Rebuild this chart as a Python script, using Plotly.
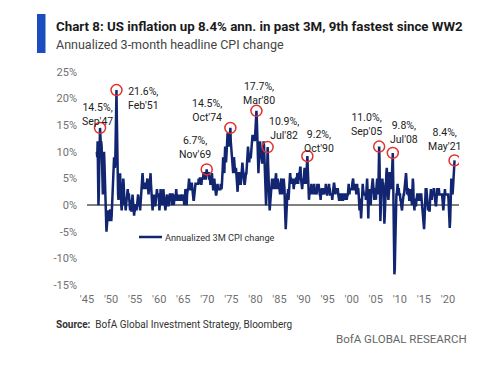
import plotly.graph_objects as go

# ---------------- data (annualized 3M CPI change, %, monthly from Jan 1947) ----------------
start_year = 1947
cpi_1940s = [
    10, 9, 12, 4, 0, 2, 7, 12, 14.5, 13, 11, 12,        # 1947
    11, 8, 3, 2, 7, 10, 10, 8, 4, 0, -3, -5,            # 1948
    -5, -4, -3, -1, -1, -2, -3, -2, -1, -1, -1, -3,     # 1949
]
cpi_1950s = [
    -3, -2, 0, 1, 2, 4, 7, 9, 8, 7, 8, 11,
    16, 21.6, 16, 8, 5, 2, 1, 2, 3, 5, 6, 4,
    3, 0, -1, 1, 2, 3, 5, 4, 1, 0, 1, 0,
    -1, 0, 1, 2, 2, 3, 2, 2, 2, 1, -1, -1,
    0, 1, -1, -1, 1, 2, 1, -1, -2, -2, -1, -1,
    0, 0, 0, -1, 0, 1, 1, 2, 1, 1, 0, 0,
    -1, 0, 1, 2, 4, 5, 6, 5, 3, 4, 3, 4,
    4, 4, 4, 3, 4, 4, 5, 4, 3, 2, 3, 3,
    4, 5, 6, 4, 2, 1, 0, -1, 0, 1, 2, 1,
    0, 0, 0, 1, 2, 2, 3, 2, 2, 2, 2, 1,
]
cpi_1960s = [
    -1, 0, 1, 3, 2, 2, 1, 0, 1, 3, 3, 2,
    1, 0, 0, -1, 0, 1, 2, 2, 1, 1, 0, 0,
    1, 2, 2, 2, 1, 1, 1, 0, 2, 2, 1, 0,
    0, 1, 2, 1, 1, 2, 3, 2, 1, 1, 1, 2,
    2, 1, 1, 1, 1, 2, 1, 1, 1, 2, 2, 1,
    1, 1, 0, 2, 3, 3, 2, 1, 0, 2, 3, 3,
    3, 4, 5, 4, 3, 3, 3, 4, 4, 4, 3, 2,
    1, 1, 1, 2, 3, 3, 4, 4, 4, 4, 4, 4,
    4, 4, 5, 4, 4, 5, 5, 5, 4, 4, 5, 5,
    5, 5, 6, 6, 6, 5, 5, 5, 5, 6, 6.7, 6,
]
cpi_1970s = [
    6, 6, 6, 6, 5, 5, 5, 4, 4, 5, 6, 6,
    5, 3, 3, 3, 4, 5, 4, 3, 2, 2, 2, 3,
    3, 4, 3, 3, 3, 3, 3, 3, 3, 4, 3, 3,
    4, 5, 7, 9, 8, 7, 6, 9, 11, 9, 8, 9,
    10, 12, 13.5, 13, 12, 11, 11, 12, 13, 14.5, 12, 11,
    10, 8, 7, 6, 6, 7, 9, 8, 7, 6, 6, 7,
    6, 4, 3, 2.5, 4, 6, 6, 6, 5, 5, 4, 4,
    5, 7, 8, 8, 7, 6, 6, 5, 4, 4, 5, 6,
    6, 6, 7, 9, 10, 11, 10, 9, 8, 9, 9, 9,
    9, 10, 11, 13, 13, 13, 12, 12, 13, 13, 12, 13,
]
cpi_1980s = [
    15, 16, 17.7, 16, 14, 12, 8, 6, 8, 11, 12, 12,
    11, 10, 10, 9, 8, 8, 10, 11, 12, 11, 8, 6,
    4, 2, 0, 2, 6, 9, 10.9, 8, 4, 2, 0, -1,
    0, 1, 2, 4, 5, 5, 4, 3, 4, 5, 4, 3,
    4, 5, 5, 6, 4, 3, 4, 5, 4, 3, 4, 3,
    3, 2, 4, 5, 5, 4, 2, 3, 3, 4, 5, 4,
    3, 0, -3, -4.5, -3, 0, 1, 2, 2, 3, 1, 2,
    3, 5, 6, 5, 5, 4, 5, 4, 5, 5, 4, 3,
    4, 4, 5, 4, 4, 5, 5, 5, 6, 4, 4, 5,
    5, 6, 6, 7, 7, 5, 4, 3, 3, 4, 5, 4,
]
cpi_1990s = [
    5, 7, 7, 6, 4, 4, 5, 7, 8, 9.2, 7, 5,
    3, 1, 2, 3, 3, 2, 3, 4, 3, 3, 2, 3,
    2, 3, 4, 3, 3, 2, 3, 3, 2, 3, 4, 3,
    3, 4, 3, 3, 2, 2, 1, 2, 3, 3, 3, 2,
    2, 3, 2, 2, 3, 3, 3, 4, 3, 2, 2, 2,
    3, 3, 3, 4, 3, 3, 2, 2, 2, 2, 2, 1,
    2, 3, 4, 4, 4, 3, 2, 2, 3, 3, 3, 3,
    3, 3, 2, 1, 1, 1, 2, 2, 2, 2, 2, 1,
    1, 1, 1, 2, 2, 2, 2, 2, 1, 2, 2, 1,
    2, 2, 2, 3, 4, 3, 2, 3, 3, 3, 3, 3,
]
cpi_2000s = [
    3, 4, 5, 5, 4, 3, 3, 3, 3, 4, 3, 2,
    3, 4, 3, 3, 3, 2, 0, -1, 1, 1, -1, -2.5,
    -1, 1, 2, 4, 3, 2, 2, 2, 2, 2, 2, 1,
    2, 4, 5, 3, -1, -2.5, 1, 2, 3, 2, 1, 0,
    2, 3, 4, 4, 5, 4, 3, 1, 1, 3, 3, 2,
    1, 3, 4, 5, 3, 2, 3, 6, 11.0, 8, 0, -3,
    -1, 2, 3, 5, 5, 4, 4, 3, -2, -3.5, -2, 1,
    2, 4, 6, 7, 6, 4, 2, 1, 2, 3, 6, 6,
    5, 4, 3, 4, 6, 8, 9.8, 5, 0, -6, -13, -12,
    -8, 0, 2, 2, 2, 3, 4, 3, 3, 3, 2, 2,
]
cpi_2010s = [
    2, 1, 1, 0, -1, -1, 0, 1, 1, 2, 2, 3,
    3, 4, 5, 6, 5, 3, 2, 3, 3, 2, 2, 1,
    1, 2, 3, 2, 1, 0, 0, 3, 5, 4, 1, -1,
    -1, 1, 1, 0, 0, 1, 2, 2, 2, 1, 1, 1,
    1, 2, 2, 2, 2, 2, 1, 0, 0, -1, -2, -4,
    -4.5, -3, 0, 2, 3, 3, 3, 2, 0, -1, -1, 0,
    0, -1, -1, 1, 2, 3, 2, 1, 2, 2, 2, 2,
    3, 3, 2, 1, 0, 0, 0, 1, 3, 3, 3, 2,
    3, 3, 2, 2, 2, 2, 2, 2, 2, 2, 1, 0,
    -1, 0, 2, 3, 3, 2, 2, 2, 2, 2, 2, 2,
]
cpi_2020s = [
    2, 1, -1, -4, -4.3, -3, 3, 5, 5, 3, 2, 2,
    3, 4, 5, 7, 8.4,
]

# highlighted peaks: (year, month, value, label)
peak_year = [1947, 1951, 1969, 1974, 1980, 1982, 1990, 2005, 2008, 2021]
peak_month = [9, 2, 11, 10, 3, 7, 10, 9, 7, 5]
peak_value = [14.5, 21.6, 6.7, 14.5, 17.7, 10.9, 9.2, 11.0, 9.8, 8.4]
peak_label = ["14.5%,<br>Sep'47", "21.6%,<br>Feb'51", "6.7%,<br>Nov'69", "14.5%,<br>Oct'74",
              "17.7%,<br>Mar'80", "10.9%,<br>Jul'82", "9.2%,<br>Oct'90", "11.0%,<br>Sep'05",
              "9.8%,<br>Jul'08", "8.4%,<br>May'21"]

x_tick_vals = [1945, 1950, 1955, 1960, 1965, 1970, 1975, 1980, 1985, 1990, 1995, 2000, 2005, 2010, 2015, 2020]
x_tick_text = ["'45", "'50", "'55", "'60", "'65", "'70", "'75", "'80", "'85", "'90", "'95", "'00", "'05", "'10", "'15", "'20"]
y_tick_vals = [-15, -10, -5, 0, 5, 10, 15, 20, 25]
y_tick_text = ["-15%", "-10%", "-5%", "0%", "5%", "10%", "15%", "20%", "25%"]

# ---------------- build ----------------
values = cpi_1940s + cpi_1950s + cpi_1960s + cpi_1970s + cpi_1980s + cpi_1990s + cpi_2000s + cpi_2010s + cpi_2020s
dates = [start_year + (i + 0.5) / 12 for i in range(len(values))]
peak_x = [y + (m - 0.5) / 12 for y, m in zip(peak_year, peak_month)]

W, H = 500, 376
L, R, T, B = 87, 459, 72, 285
FONT = "Roboto, sans-serif"
NAVY = "#122571"

def px(x):
    return (x - L) / (R - L)

def py(y):
    return (B - y) / (B - T)

fig = go.Figure()
fig.add_trace(go.Scatter(x=dates, y=values, mode="lines",
                         line=dict(color=NAVY, width=2.5), showlegend=False,
                         name="Annualized 3M CPI change"))
fig.add_trace(go.Scatter(x=peak_x, y=peak_value, mode="markers",
                         marker=dict(symbol="circle-open", size=11, color="#E0322E",
                                     line=dict(width=1.5, color="#E0322E")),
                         showlegend=False))

fig.update_layout(
    width=W, height=H,
    margin=dict(l=L, r=W - R, t=T, b=H - B),
    paper_bgcolor="white", plot_bgcolor="white",
    font=dict(family=FONT, size=11, color="#555555"),
    xaxis=dict(range=[1945, 2022.3], tickvals=x_tick_vals, ticktext=x_tick_text,
               showgrid=False, zeroline=False, showline=False, ticks="",
               ticklabelstandoff=6, tickfont=dict(size=11, color="#707070")),
    yaxis=dict(range=[-15, 25], tickvals=y_tick_vals, ticktext=y_tick_text,
               showgrid=False, zeroline=True, zerolinecolor="#808080", zerolinewidth=1.5,
               showline=False, ticks="", ticklabelstandoff=9,
               tickfont=dict(size=11, color="#707070")),
)

# peak label positions (pixel centres of the two-line labels)
label_px = [(97, 114), (143, 98), (195, 147), (207, 110), (259, 93), (284, 128),
            (319, 141), (366, 124), (404, 132), (444, 139)]
for (lx, ly), txt in zip(label_px, peak_label):
    fig.add_annotation(xref="paper", yref="paper", x=px(lx), y=py(ly), text=txt,
                       showarrow=False, xanchor="center", yanchor="middle",
                       font=dict(family=FONT, size=10.5, color="#222222"), align="center")

# legend (drawn)
fig.add_shape(type="line", xref="paper", yref="paper", x0=px(139), x1=px(162), y0=py(237), y1=py(237),
              line=dict(color=NAVY, width=2.5))
fig.add_annotation(xref="paper", yref="paper", x=px(163), y=py(237), text="Annualized 3M CPI change",
                   showarrow=False, xanchor="left", yanchor="middle",
                   font=dict(family=FONT, size=9.2, color="#333333"))

# title block
fig.add_shape(type="rect", xref="paper", yref="paper", x0=px(37), x1=px(45.5), y0=py(53), y1=py(14),
              fillcolor="#1B4CC0", line=dict(width=0))
fig.add_annotation(xref="paper", yref="paper", x=px(54), y=py(26),
                   text="<b>Chart 8: US inflation up 8.4% ann. in past 3M, 9th fastest since WW2</b>",
                   showarrow=False, xanchor="left", yanchor="middle",
                   font=dict(family=FONT, size=13.3, color="#1a1a1a"))
fig.add_annotation(xref="paper", yref="paper", x=px(54), y=py(45),
                   text="Annualized 3-month headline CPI change",
                   showarrow=False, xanchor="left", yanchor="middle",
                   font=dict(family=FONT, size=12.5, color="#444444"))

# footer
fig.add_annotation(xref="paper", yref="paper", x=px(54), y=py(324),
                   text="<b>Source:</b>  BofA Global Investment Strategy, Bloomberg",
                   showarrow=False, xanchor="left", yanchor="middle",
                   font=dict(family=FONT, size=10, color="#333333"))
fig.add_annotation(xref="paper", yref="paper", x=px(469), y=py(339),
                   text="BofA GLOBAL RESEARCH",
                   showarrow=False, xanchor="right", yanchor="middle",
                   font=dict(family=FONT, size=11.5, color="#666666"))

fig.write_html("out.html", config={"displayModeBar": False},
               post_script="document.body.style.margin='0';")
